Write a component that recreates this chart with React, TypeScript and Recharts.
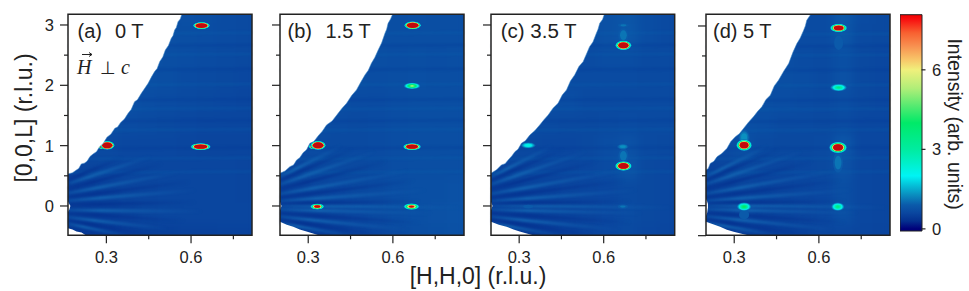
import React from 'react';
import { ComposedChart, XAxis, YAxis, Scatter, Line, Area, Bar, ReferenceArea } from 'recharts';

const FONT = '"Liberation Sans", Arial, sans-serif';
const xTicks = [0.3, 0.45, 0.6, 0.75];
const xLabels = [0.3, 0.6];
const yTicksAll = [0, 0.5, 1, 1.5, 2, 2.5, 3];
const gridL = [3.2, 2.83, 2.46, 2.09, 1.72, 1.35, 0.98, 0.61, 0.24, -0.13, -0.5];
const gridHa = [0.17, 0.24, 0.31, 0.38, 0.45, 0.52, 0.59, 0.66, 0.73, 0.8];
const gridHb = [0.2, 0.27, 0.34, 0.41, 0.48, 0.55, 0.62, 0.69, 0.76, 0.83];

const bgA = [
  [.7,.7,.7,.7,.7,.7,.75,.72,.68,.66],
  [.7,.7,.7,.7,.7,.75,.72,.7,.68,.66],
  [.7,.7,.7,.72,.78,.72,.7,.68,.66,.64],
  [.7,.7,.7,.74,.74,.72,.68,.66,.64,.62],
  [.7,.7,.72,.75,.7,.68,.66,.64,.62,.6],
  [.7,.72,.72,.68,.66,.64,.62,.6,.6,.6],
  [.7,.68,.66,.62,.62,.62,.6,.58,.58,.58],
  [.55,.58,.6,.6,.6,.6,.6,.6,.6,.58],
  [.5,.52,.55,.58,.58,.6,.6,.6,.6,.58],
  [.5,.5,.52,.55,.58,.6,.6,.6,.6,.6],
  [.42,.42,.45,.48,.5,.52,.55,.55,.56,.56],
];
const bgB = [
  [.7,.7,.7,.7,.7,.7,.72,.74,.72,.72],
  [.7,.7,.7,.7,.7,.72,.72,.72,.72,.72],
  [.7,.7,.7,.7,.72,.72,.7,.72,.7,.72],
  [.7,.7,.7,.72,.72,.7,.72,.74,.72,.72],
  [.7,.7,.72,.7,.68,.68,.7,.72,.72,.72],
  [.7,.7,.7,.68,.66,.68,.7,.72,.72,.72],
  [.68,.66,.68,.66,.66,.68,.7,.72,.72,.72],
  [.58,.6,.64,.64,.64,.66,.7,.72,.72,.72],
  [.52,.56,.6,.62,.64,.66,.7,.74,.74,.76],
  [.52,.54,.56,.58,.62,.66,.7,.74,.76,.78],
  [.42,.44,.46,.5,.55,.6,.66,.72,.74,.76],
];
const bgC = [
  [.7,.7,.7,.7,.7,.72,.76,.82,.7,.66],
  [.7,.7,.7,.7,.7,.7,.76,.84,.7,.66],
  [.7,.7,.7,.7,.7,.68,.7,.7,.66,.66],
  [.7,.7,.7,.7,.68,.68,.68,.68,.66,.66],
  [.7,.7,.7,.7,.7,.66,.66,.66,.66,.66],
  [.7,.7,.68,.66,.64,.64,.66,.68,.66,.66],
  [.66,.66,.64,.62,.62,.64,.7,.76,.66,.64],
  [.56,.58,.6,.6,.6,.62,.68,.8,.64,.62],
  [.5,.52,.56,.56,.58,.6,.62,.66,.64,.62],
  [.48,.5,.52,.54,.56,.58,.62,.68,.64,.62],
  [.4,.42,.44,.48,.52,.56,.62,.66,.62,.6],
];
const bgD = [
  [.7,.7,.7,.7,.7,.68,.68,.85,.68,.64],
  [.7,.7,.7,.7,.7,.68,.68,.82,.66,.64],
  [.7,.7,.7,.7,.72,.68,.66,.74,.64,.62],
  [.7,.7,.7,.74,.72,.7,.66,.76,.64,.62],
  [.7,.7,.72,.72,.7,.68,.66,.7,.64,.62],
  [.7,.74,.74,.7,.66,.66,.64,.68,.62,.62],
  [.62,.68,.74,.66,.64,.64,.66,.84,.62,.62],
  [.54,.58,.64,.6,.6,.62,.64,.76,.62,.6],
  [.5,.54,.58,.56,.58,.6,.62,.72,.62,.6],
  [.5,.52,.62,.54,.56,.58,.62,.74,.62,.6],
  [.42,.44,.5,.48,.5,.54,.6,.62,.6,.58],
];

// white (unmeasured) region: [H, L of the coverage edge]
const edgeA = [[.164,.53],[.18,.55],[.194,.597],[.202,.62],[.211,.696],[.222,.71],[.2315,.74],[.242,.82],[.253,.862],[.265,.9],[.276,.983],[.288,1.03],[.302,1.138],[.316,1.19],[.33,1.287],[.34,1.31],[.35,1.381],[.364,1.44],[.377,1.536],[.388,1.6],[.4,1.729],[.41,1.76],[.424,1.867],[.436,1.95],[.448,2.033],[.46,2.14],[.471,2.227],[.48,2.28],[.489,2.392],[.5,2.47],[.509,2.586],[.52,2.66],[.53,2.779],[.536,2.82],[.542,2.917],[.548,2.96],[.554,3.055],[.562,3.1],[.569,3.2]];
const edgeB = [[.2,.541],[.218,.58],[.235,.652],[.248,.68],[.259,.762],[.27,.8],[.282,.884],[.294,.93],[.306,1.039],[.32,1.07],[.335,1.16],[.35,1.24],[.365,1.343],[.385,1.41],[.406,1.536],[.42,1.62],[.436,1.702],[.454,1.83],[.471,1.923],[.486,2.05],[.501,2.171],[.513,2.25],[.524,2.365],[.536,2.46],[.548,2.586],[.56,2.7],[.572,2.862],[.578,2.93],[.583,3.028],[.592,3.1],[.601,3.2]];
const edgeC = [[.2,.541],[.22,.6],[.237,.68],[.25,.7],[.261,.762],[.274,.83],[.285,.9],[.296,.94],[.308,1.039],[.322,1.08],[.338,1.177],[.356,1.25],[.373,1.343],[.388,1.43],[.403,1.508],[.42,1.62],[.438,1.702],[.453,1.84],[.468,1.923],[.482,2.07],[.497,2.171],[.512,2.31],[.527,2.392],[.54,2.53],[.55,2.641],[.562,2.72],[.574,2.862],[.58,2.93],[.586,3.028],[.596,3.09],[.604,3.2]];
const edgeD = [[.2,.594],[.208,.62],[.215,.706],[.228,.74],[.239,.817],[.256,.87],[.274,.956],[.288,1.07],[.304,1.15],[.318,1.2],[.333,1.289],[.35,1.39],[.368,1.483],[.384,1.58],[.398,1.65],[.412,1.77],[.428,1.844],[.442,2.0],[.457,2.094],[.476,2.25],[.493,2.372],[.508,2.56],[.522,2.706],[.534,2.8],[.546,2.928],[.552,3.0],[.557,3.094],[.572,3.2]];
const wedgeA = [[.164,-.37],[.18,-.39],[.194,-.425],[.212,-.44],[.232,-.5]];
const wedgeB = [[.2,-.26],[.224,-.31],[.247,-.343],[.27,-.39],[.294,-.425],[.32,-.46],[.347,-.5]];
const wedgeC = [[.2,-.26],[.228,-.31],[.255,-.343],[.28,-.39],[.302,-.425],[.33,-.46],[.361,-.5]];
const wedgeD = [[.2,-.267],[.225,-.31],[.25,-.35],[.274,-.4],[.298,-.433],[.326,-.47],[.357,-.5]];
const notchA = [[.164,-.1,.08],[.169,-.06,.03],[.172,-.01,.01]];
const notchB = [[.2,-.07,.07],[.203,-.03,.03],[.205,-.01,.01]];
const notchD = [[.2,-.17,.11],[.204,-.12,.07],[.207,-.03,.03]];

// fan of streaks from the low-angle side: [H0, L0, H1, L1]
const brightA = [[.165,.09,.62,.26],[.165,.21,.56,.56],[.17,.38,.46,.82],[.165,-.07,.64,-.09],[.165,-.19,.52,-.38],[.165,-.29,.38,-.5]];
const darkA = [[.165,.15,.6,.4],[.165,.29,.5,.7],[.165,.44,.36,.8],[.165,-.12,.58,-.25],[.165,-.24,.46,-.48],[.165,.02,.62,.06]];
const brightB = [[.2,.08,.72,.26],[.2,.2,.66,.58],[.2,.36,.54,.9],[.2,.48,.42,1.0],[.2,-.06,.74,-.12],[.2,-.18,.66,-.4],[.2,-.28,.46,-.5],[.2,.01,.85,-.03]];
const darkB = [[.2,.14,.68,.42],[.2,.28,.58,.74],[.2,.43,.46,.94],[.2,-.12,.7,-.28],[.2,-.23,.56,-.48],[.2,.04,.7,.08]];
const bandBright = [2.85, 2.5, 2.0, 1.6, 1.25, 0.78, 0.55];
const bandDark = [2.65, 2.25, 1.75, 1.4, 0.95];

// Bragg peaks: h, l, peak height, half widths in r.l.u.
const peaksA = [
  { h: .288, l: .985, v: 30, dh: .018, dl: .04 },
  { h: .303, l: 1.005, v: 60, dh: .026, dl: .07 },
  { h: .634, l: .983, v: 40, dh: .036, dl: .056 },
  { h: .637, l: 2.99, v: 60, dh: .03, dl: .056 },
];
const peaksB = [
  { h: .32, l: .985, v: 30, dh: .018, dl: .04 },
  { h: .335, l: 1.005, v: 60, dh: .027, dl: .072 },
  { h: .668, l: .983, v: 40, dh: .032, dl: .056 },
  { h: .67, l: 2.994, v: 50, dh: .03, dl: .064 },
  { h: .668, l: 1.99, v: 5.6, dh: .03, dl: .052 },
  { h: .332, l: -.01, v: 13, dh: .025, dl: .048 },
  { h: .666, l: -.01, v: 10, dh: .029, dl: .052 },
];
const peaksC = [
  { h: .67, l: .83, v: 1.3, dh: .018, dl: .12 },
  { h: .67, l: 2.83, v: 1.3, dh: .018, dl: .12 },
  { h: .67, l: .663, v: 30, dh: .03, dl: .078 },
  { h: .67, l: 2.663, v: 30, dh: .029, dl: .078 },
  { h: .332, l: 1.005, v: 2.6, dh: .026, dl: .05 },
  { h: .668, l: .983, v: 1.5, dh: .02, dl: .045 },
  { h: .67, l: 2.994, v: 1.2, dh: .02, dl: .035 },
  { h: .668, l: -.01, v: 1.2, dh: .018, dl: .035 },
  { h: .332, l: -.01, v: 1.05, dh: .018, dl: .03 },
];
const peaksD = [
  { h: .335, l: 1.14, v: 1.5, dh: .02, dl: .13 },
  { h: .668, l: .72, v: 1.3, dh: .018, dl: .17 },
  { h: .67, l: 2.72, v: 1.1, dh: .016, dl: .12 },
  { h: .335, l: -.15, v: 1.1, dh: .018, dl: .08 },
  { h: .335, l: 1.011, v: 20, dh: .028, dl: .095 },
  { h: .668, l: .972, v: 20, dh: .032, dl: .095 },
  { h: .67, l: 2.967, v: 20, dh: .031, dl: .07 },
  { h: .67, l: 1.972, v: 3.7, dh: .03, dl: .062 },
  { h: .667, l: -.017, v: 3.8, dh: .024, dl: .07 },
  { h: .335, l: -.017, v: 4.3, dh: .026, dl: .07 },
];

const colorValues = [0, .3, .6, .9, 1.3, 1.7, 2, 2.5, 3, 4, 4.6, 5.3, 6, 6.4, 6.9, 7.4, 7.9, 8.1];
const colorHex = ['#00007a', '#04308f', '#0a469f', '#0b5aaa', '#0a90c0', '#04c8dc', '#00f4f4', '#00f0c8', '#00eca0', '#00ea68', '#50ea70', '#b0ee78', '#f0f07c', '#f8c468', '#f89050', '#f86030', '#f81010', '#f00000'];
const contourLevels = [.9, 1.1, 1.3, 1.6, 1.9, 2.2, 2.6, 3, 3.5, 4, 4.6, 5.3, 6, 6.5, 7, 7.5, 8];

const hexRgb = (s: string) => [1, 3, 5].map((i) => parseInt(s.slice(i, i + 2), 16));
function jet(v: number) {
  if (v <= colorValues[0]) return colorHex[0];
  for (let i = 1; i < colorValues.length; i++) {
    if (v <= colorValues[i]) {
      const t = (v - colorValues[i - 1]) / (colorValues[i] - colorValues[i - 1]);
      const a = hexRgb(colorHex[i - 1]);
      const b = hexRgb(colorHex[i]);
      return `rgb(${a.map((c, k) => Math.round(c + (b[k] - c) * t)).join(',')})`;
    }
  }
  return colorHex[colorHex.length - 1];
}

const PX_H = 282;
const PX_L = 60.3;

const cellShape = (p: any) => (
  <rect x={p.cx - 11} y={p.cy - 12} width={22} height={24} fill={jet(p.payload.v)} />
);
const peakShape = (p: any) => {
  const { v, dh, dl } = p.payload;
  const norm = Math.log(v / contourLevels[0]);
  return (
    <g>
      {contourLevels.filter((t) => t < v).map((t) => {
        const f = Math.sqrt(Math.log(v / t) / norm);
        return (
          <ellipse key={t} cx={p.cx} cy={p.cy} rx={dh * PX_H * f} ry={dl * PX_L * f}
            fill={t >= 8 ? '#c20a0c' : jet(t)} />
        );
      })}
    </g>
  );
};

const xTick = (p: any) => {
  const v = p.payload.value;
  const major = xLabels.includes(v);
  return (
    <g>
      <line x1={p.x} x2={p.x} y1={p.y} y2={p.y + (major ? 8 : 4)} stroke="#222" strokeWidth={1.2} />
      {major && <text x={p.x} y={p.y + 28} textAnchor="middle" fontSize={16.5} fontFamily={FONT} fill="#222">{v.toFixed(1)}</text>}
    </g>
  );
};
const makeYTick = (labelled: boolean) => (p: any) => {
  const v = p.payload.value;
  const major = Number.isInteger(v) || v === -0.5;
  return (
    <g>
      <line x1={p.x} x2={p.x - (major ? 8 : 4)} y1={p.y} y2={p.y} stroke="#222" strokeWidth={1.2} />
      {labelled && major && v >= 0 && <text x={p.x - 14} y={p.y + 6} textAnchor="end" fontSize={16.5} fontFamily={FONT} fill="#222">{v}</text>}
    </g>
  );
};

const toXY = (s: number[]) => [{ h: s[0], l: s[1] }, { h: s[2], l: s[3] }];

function Panel(props: any) {
  const { left, right, hDomain, lDomain, bg, gridH, edge, wedge, notch, bright, dark, peaks, labelled, yTicks } = props;
  const cells = gridL.flatMap((l, r) => gridH.map((h: number, c: number) => ({ h, l, v: bg[r][c] })));
  const edgeData = edge.map((e: number[]) => ({ h: e[0], band: [e[1], lDomain[1] + 0.02] }));
  const wedgeData = wedge.map((e: number[]) => ({ h: e[0], band: [lDomain[0] - 0.02, e[1]] }));
  const notchData = notch.map((e: number[]) => ({ h: e[0], band: [e[1], e[2]] }));
  const hBands = (ls: number[]) => ls.map((l) => [{ h: hDomain[0], l }, { h: hDomain[1], l: l + 0.02 }]);
  const yAxisW = 40;
  const w = yAxisW + (right - left) + 6;
  return (
    <div style={{ position: 'absolute', left: left - yAxisW, top: 0 }}>
      <ComposedChart width={w} height={291} margin={{ top: 14.3, right: 6, bottom: 0, left: 0 }}>
        <XAxis dataKey="h" type="number" domain={hDomain} allowDataOverflow ticks={xTicks} interval={0}
          height={55.7} tickSize={0} tickMargin={0} tickLine={false} axisLine={false} tick={xTick} />
        <YAxis type="number" domain={lDomain} allowDataOverflow ticks={yTicks} interval={0}
          width={yAxisW} tickSize={0} tickMargin={0} tickLine={false} axisLine={false} tick={makeYTick(labelled)} />
        <ReferenceArea x1={hDomain[0]} x2={hDomain[1]} y1={lDomain[0]} y2={lDomain[1]} fill={jet(.62)} stroke="none" fillOpacity={1} />
        <Scatter name="background" data={cells} dataKey="l" shape={cellShape} className="soft5" isAnimationActive={false} zIndex={110} />
        {hBands(bandBright).map((d, i) => (
          <Line key={'bb' + i} data={d} dataKey="l" dot={false} stroke={jet(1.0)} strokeOpacity={.3} strokeWidth={2} className="soft1" isAnimationActive={false} zIndex={120} />
        ))}
        {hBands(bandDark).map((d, i) => (
          <Line key={'bd' + i} data={d} dataKey="l" dot={false} stroke={jet(.35)} strokeOpacity={.28} strokeWidth={2} className="soft1" isAnimationActive={false} zIndex={120} />
        ))}
        {bright.map((s: number[], i: number) => (
          <Line key={'b' + i} data={toXY(s)} dataKey="l" dot={false} stroke="url(#fadeBright)" strokeWidth={3} className="soft15" isAnimationActive={false} zIndex={130} />
        ))}
        {dark.map((s: number[], i: number) => (
          <Line key={'d' + i} data={toXY(s)} dataKey="l" dot={false} stroke="url(#fadeDark)" strokeWidth={3.5} className="soft15" isAnimationActive={false} zIndex={130} />
        ))}
        <Scatter name="peaks" data={peaks} dataKey="l" shape={peakShape} className="soft05" isAnimationActive={false} zIndex={140} />
        <Area data={edgeData} dataKey="band" type="linear" fill="#fff" fillOpacity={1} stroke="#3f88c6" strokeOpacity={.55} strokeWidth={1} dot={false} activeDot={false} isAnimationActive={false} zIndex={150} />
        <Area data={wedgeData} dataKey="band" type="linear" fill="#fff" fillOpacity={1} stroke="none" dot={false} activeDot={false} isAnimationActive={false} zIndex={150} />
        <Area data={notchData} dataKey="band" type="linear" fill="#fff" fillOpacity={1} stroke="none" dot={false} activeDot={false} isAnimationActive={false} zIndex={150} />
        <ReferenceArea x1={hDomain[0]} x2={hDomain[1]} y1={lDomain[0]} y2={lDomain[1]} fill="none" stroke="#222" strokeWidth={1.5} zIndex={600} />
      </ComposedChart>
    </div>
  );
}

const barData = [{ n: 'I', range: [-0.08, 8.08] }];

function ColorBar() {
  return (
    <div style={{ position: 'absolute', left: 899.5, top: 0 }}>
      <ComposedChart width={50} height={291} data={barData} barCategoryGap={0} margin={{ top: 14.7, right: 0, bottom: 60, left: 0 }}>
        <XAxis dataKey="n" hide />
        <YAxis orientation="right" type="number" domain={[-0.08, 8.08]} ticks={[0, 3, 6]} interval={0} width={28.5}
          tickSize={0} tickMargin={0} tickLine={false} axisLine={false}
          tick={(p: any) => (
            <g>
              <line x1={p.x} x2={p.x + 4} y1={p.y} y2={p.y} stroke="#222" strokeWidth={1.2} />
              <text x={p.x + 10.5} y={p.y + 6} fontSize={16.5} fontFamily={FONT} fill="#222">{p.payload.value}</text>
            </g>
          )} />
        <Bar dataKey="range" fill="url(#cbar)" stroke="#222" strokeWidth={1} isAnimationActive={false} />
      </ComposedChart>
    </div>
  );
}

const txt = { fontFamily: FONT, fill: '#222' };

export default function App() {
  const xa = [0.164, 0.816];
  const xb = [0.2, 0.852];
  const ly = [-0.486, 3.177];
  return (
    <div style={{ position: 'absolute', left: 0, top: 0, width: 969, height: 291, background: '#fff', overflow: 'hidden' }}>
      <style>{`.soft5{filter:blur(5px)}.soft15{filter:blur(1.1px)}.soft1{filter:blur(1px)}.soft05{filter:blur(.5px)}`}</style>
      <svg width={0} height={0} style={{ position: 'absolute' }}>
        <defs>
          <linearGradient id="cbar" x1="0" y1="1" x2="0" y2="0">
            {colorValues.map((v, i) => (
              <stop key={v} offset={(v + 0.08) / 8.16} stopColor={colorHex[i]} />
            ))}
          </linearGradient>
          <linearGradient id="fadeBright" x1="0" y1="0" x2="1" y2="0">
            <stop offset="0" stopColor="#1468b4" stopOpacity={.35} />
            <stop offset="0.25" stopColor="#1468b4" stopOpacity={.85} />
            <stop offset="1" stopColor="#1468b4" stopOpacity={0} />
          </linearGradient>
          <linearGradient id="fadeDark" x1="0" y1="0" x2="1" y2="0">
            <stop offset="0" stopColor="#04308f" stopOpacity={.4} />
            <stop offset="0.25" stopColor="#04308f" stopOpacity={.75} />
            <stop offset="1" stopColor="#04308f" stopOpacity={0} />
          </linearGradient>
        </defs>
      </svg>
      <Panel left={68.3} right={252.3} hDomain={xa} lDomain={ly} yTicks={yTicksAll} bg={bgA} gridH={gridHa} edge={edgeA} wedge={wedgeA} notch={notchA} bright={brightA} dark={darkA} peaks={peaksA} labelled />
      <Panel left={280} right={464} hDomain={xb} lDomain={ly} yTicks={yTicksAll} bg={bgB} gridH={gridHb} edge={edgeB} wedge={wedgeB} notch={notchB} bright={brightB} dark={darkB} peaks={peaksB} />
      <Panel left={491.3} right={675} hDomain={xb} lDomain={ly} yTicks={yTicksAll} bg={bgC} gridH={gridHb} edge={edgeC} wedge={wedgeC} notch={notchB} bright={brightB} dark={darkB} peaks={peaksC} />
      <Panel left={706} right={890} hDomain={xb} lDomain={[-0.494, 3.195]} yTicks={[-0.5, ...yTicksAll]} bg={bgD} gridH={gridHb} edge={edgeD} wedge={wedgeD} notch={notchD} bright={brightB} dark={darkB} peaks={peaksD} />
      <ColorBar />
      <svg width={969} height={291} style={{ position: 'absolute', left: 0, top: 0, pointerEvents: 'none' }}>
        <text {...txt} x={77.5} y={38} fontSize={20}>(a)</text>
        <text {...txt} x={115} y={38} fontSize={20}>0 T</text>
        <text {...txt} x={287.5} y={38} fontSize={20}>(b)</text>
        <text {...txt} x={325.5} y={38} fontSize={20}>1.5 T</text>
        <text {...txt} x={500.7} y={38} fontSize={20.5}>(c) 3.5 T</text>
        <text {...txt} x={713} y={38} fontSize={20}>(d) 5 T</text>
        <text x={77} y={74} fontSize={20} fontStyle="italic" fontFamily='"Liberation Serif", serif' fill="#222">H</text>
        <line x1={82} x2={92} y1={54.5} y2={54.5} stroke="#222" strokeWidth={1} />
        <path d="M89 52.5 L92 54.5 L89 56.5" fill="none" stroke="#222" strokeWidth={1} />
        <text x={100} y={74} fontSize={18} fontFamily='"DejaVu Sans", sans-serif' fill="#222">⊥</text>
        <text x={121} y={74} fontSize={20} fontStyle="italic" fontFamily='"Liberation Serif", serif' fill="#222">c</text>
        <text {...txt} fontSize={23} textAnchor="middle" transform="translate(32,118) rotate(-90)">[0,0,L] (r.l.u.)</text>
        <text {...txt} x={478} y={284} fontSize={23} textAnchor="middle">[H,H,0] (r.l.u.)</text>
        <text {...txt} fontSize={19.5} textAnchor="middle" transform="translate(948,124) rotate(90)">Intensity (arb. units)</text>
      </svg>
    </div>
  );
}
